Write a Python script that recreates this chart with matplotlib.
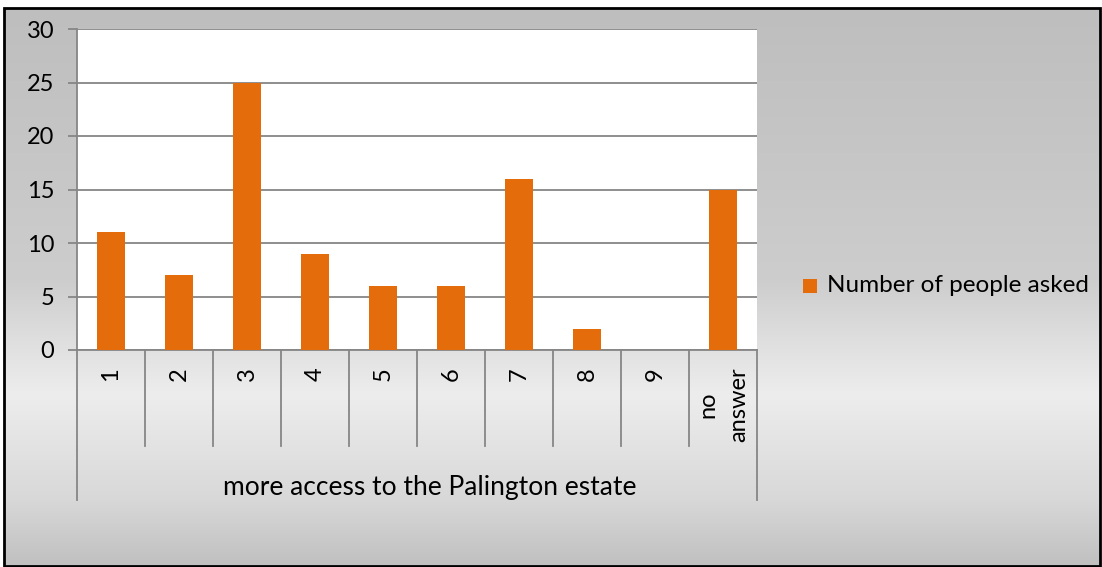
import numpy as np
import matplotlib
matplotlib.use("Agg")
import matplotlib.pyplot as plt
from matplotlib.patches import Rectangle

categories = ["1", "2", "3", "4", "5", "6", "7", "8", "9", "no\nanswer"]
values = [11, 7, 25, 9, 6, 6, 16, 2, 0, 15]
group_label = "more access to the Palington estate"
series_name = "Number of people asked"
y_ticks = [0, 5, 10, 15, 20, 25, 30]

BAR = "#E46C0A"
GRID = "#868686"
FONT = "Lato"
FS = 17

W, H = 1102, 567
fig = plt.figure(figsize=(W / 100, H / 100), dpi=100, facecolor="white")


def fx(px):
    return px / W


def fy(py):
    return 1 - py / H


# background gradient panel
bg = fig.add_axes([fx(4), fy(566), fx(1100) - fx(4), fy(8) - fy(566)], zorder=0)
ys = np.linspace(8, 566, 500)
stops_y = [8, 280, 345, 395, 500, 566]
stops_v = [190, 205, 224, 237, 216, 192]
g = np.interp(ys, stops_y, stops_v) / 255.0
img = np.repeat(g[:, None], 2, axis=1)
bg.imshow(np.dstack([img, img, img]), aspect="auto", extent=[0, 1, 0, 1],
          interpolation="bilinear")
bg.set_axis_off()
fig.patches.append(Rectangle((fx(4), fy(566)), fx(1100) - fx(4), fy(8) - fy(566),
                             transform=fig.transFigure, fill=False,
                             edgecolor="black", linewidth=2, zorder=5))

# chart
ax = fig.add_axes([fx(77), fy(350), fx(757) - fx(77), fy(29) - fy(350)], zorder=2)
ax.set_facecolor("white")
x = np.arange(len(categories))
ax.bar(x, values, width=0.41, color=BAR, zorder=3)
ax.set_xlim(-0.5, len(categories) - 0.5)
ax.set_ylim(0, 30)
ax.set_yticks(y_ticks)
ax.set_yticklabels([str(v) for v in y_ticks], fontsize=FS, family=FONT)
ax.yaxis.grid(True, color=GRID, linewidth=1.3)
ax.set_axisbelow(True)
ax.tick_params(axis="y", direction="out", length=6.5, width=1.3, color=GRID, pad=10)
ax.set_xticks([])
for s in ["top", "right"]:
    ax.spines[s].set_visible(False)
for s in ["left", "bottom"]:
    ax.spines[s].set_color(GRID)
    ax.spines[s].set_linewidth(1.3)

axh = 350 - 29
tr = ax.get_xaxis_transform()
n = len(categories)
for b in range(n + 1):
    xb = b - 0.5
    depth = 150 if b in (0, n) else 96
    ax.plot([xb, xb], [0, -depth / axh], transform=tr, color=GRID,
            linewidth=1.3, clip_on=False, zorder=4)

for i, lab in enumerate(categories):
    ax.text(i, -(367 - 350) / axh, lab, transform=tr, rotation=90,
            ha="center", va="top", multialignment="center", linespacing=1.6,
            fontsize=FS, family=FONT, color="black")

fig.text(fx(430), fy(487), group_label,
         ha="center", va="center", fontsize=19, family=FONT, color="black")

# legend
fig.patches.append(Rectangle((fx(803), fy(293)), fx(14), 14 / H,
                             transform=fig.transFigure, facecolor=BAR,
                             edgecolor="none", zorder=5))
fig.text(fx(827), fy(286), series_name, ha="left", va="center",
         fontsize=17.5, family=FONT, color="black")

fig.savefig("out.png", dpi=100, facecolor="white")
